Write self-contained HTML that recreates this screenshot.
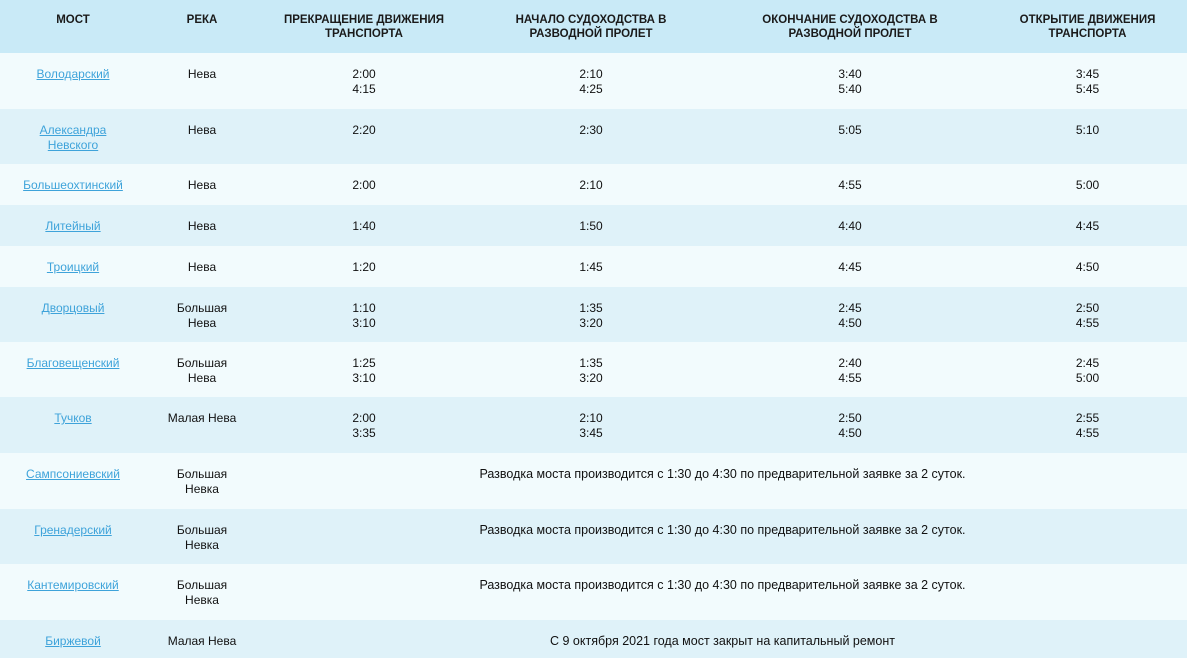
<!DOCTYPE html>
<html lang="ru">
<head>
<meta charset="utf-8">
<style>
  html,body{margin:0;padding:0;background:#f2fbfd;}
  body{width:1187px;height:658px;overflow:hidden;font-family:"Liberation Sans","DejaVu Sans",sans-serif;color:#111;}
  table{border-collapse:collapse;table-layout:fixed;width:1187px;}
  td,th{text-align:center;vertical-align:top;font-size:12px;line-height:15px;padding:14px 4px 0 4px;box-sizing:border-box;}
  th{font-weight:bold;font-size:11.5px;line-height:14px;padding-top:13px;background:#c9eaf7;height:53px;color:#1a1a1a;}
  tr.o td{background:#f2fbfd;}
  tr.e td{background:#dff2f9;}
  td.note{font-size:12.5px;}
  a{color:#3ea3da;text-decoration:underline;}
</style>
</head>
<body>
<table>
  <colgroup><col style="width:146px"><col style="width:112px"><col style="width:212px"><col style="width:242px"><col style="width:276px"><col style="width:199px"></colgroup>
  <thead>
    <tr>
      <th>МОСТ</th>
      <th>РЕКА</th>
      <th>ПРЕКРАЩЕНИЕ ДВИЖЕНИЯ<br>ТРАНСПОРТА</th>
      <th>НАЧАЛО СУДОХОДСТВА В<br>РАЗВОДНОЙ ПРОЛЕТ</th>
      <th>ОКОНЧАНИЕ СУДОХОДСТВА В<br>РАЗВОДНОЙ ПРОЛЕТ</th>
      <th>ОТКРЫТИЕ ДВИЖЕНИЯ<br>ТРАНСПОРТА</th>
    </tr>
  </thead>
  <tbody>
    <tr class="o" style="height:56px">
      <td><a href="#">Володарский</a></td><td>Нева</td><td>2:00<br>4:15</td><td>2:10<br>4:25</td><td>3:40<br>5:40</td><td>3:45<br>5:45</td>
    </tr>
    <tr class="e" style="height:55px">
      <td><a href="#">Александра<br>Невского</a></td><td>Нева</td><td>2:20</td><td>2:30</td><td>5:05</td><td>5:10</td>
    </tr>
    <tr class="o" style="height:41px">
      <td><a href="#">Большеохтинский</a></td><td>Нева</td><td>2:00</td><td>2:10</td><td>4:55</td><td>5:00</td>
    </tr>
    <tr class="e" style="height:41px">
      <td><a href="#">Литейный</a></td><td>Нева</td><td>1:40</td><td>1:50</td><td>4:40</td><td>4:45</td>
    </tr>
    <tr class="o" style="height:41px">
      <td><a href="#">Троицкий</a></td><td>Нева</td><td>1:20</td><td>1:45</td><td>4:45</td><td>4:50</td>
    </tr>
    <tr class="e" style="height:55px">
      <td><a href="#">Дворцовый</a></td><td>Большая<br>Нева</td><td>1:10<br>3:10</td><td>1:35<br>3:20</td><td>2:45<br>4:50</td><td>2:50<br>4:55</td>
    </tr>
    <tr class="o" style="height:55px">
      <td><a href="#">Благовещенский</a></td><td>Большая<br>Нева</td><td>1:25<br>3:10</td><td>1:35<br>3:20</td><td>2:40<br>4:55</td><td>2:45<br>5:00</td>
    </tr>
    <tr class="e" style="height:56px">
      <td><a href="#">Тучков</a></td><td>Малая Нева</td><td>2:00<br>3:35</td><td>2:10<br>3:45</td><td>2:50<br>4:50</td><td>2:55<br>4:55</td>
    </tr>
    <tr class="o" style="height:56px">
      <td><a href="#">Сампсониевский</a></td><td>Большая<br>Невка</td><td colspan="4" class="note">Разводка моста производится с 1:30 до 4:30 по предварительной заявке за 2 суток.</td>
    </tr>
    <tr class="e" style="height:55px">
      <td><a href="#">Гренадерский</a></td><td>Большая<br>Невка</td><td colspan="4" class="note">Разводка моста производится с 1:30 до 4:30 по предварительной заявке за 2 суток.</td>
    </tr>
    <tr class="o" style="height:56px">
      <td><a href="#">Кантемировский</a></td><td>Большая<br>Невка</td><td colspan="4" class="note">Разводка моста производится с 1:30 до 4:30 по предварительной заявке за 2 суток.</td>
    </tr>
    <tr class="e" style="height:38px">
      <td><a href="#">Биржевой</a></td><td>Малая Нева</td><td colspan="4" class="note">С 9 октября 2021 года мост закрыт на капитальный ремонт</td>
    </tr>
  </tbody>
</table>
</body>
</html>
